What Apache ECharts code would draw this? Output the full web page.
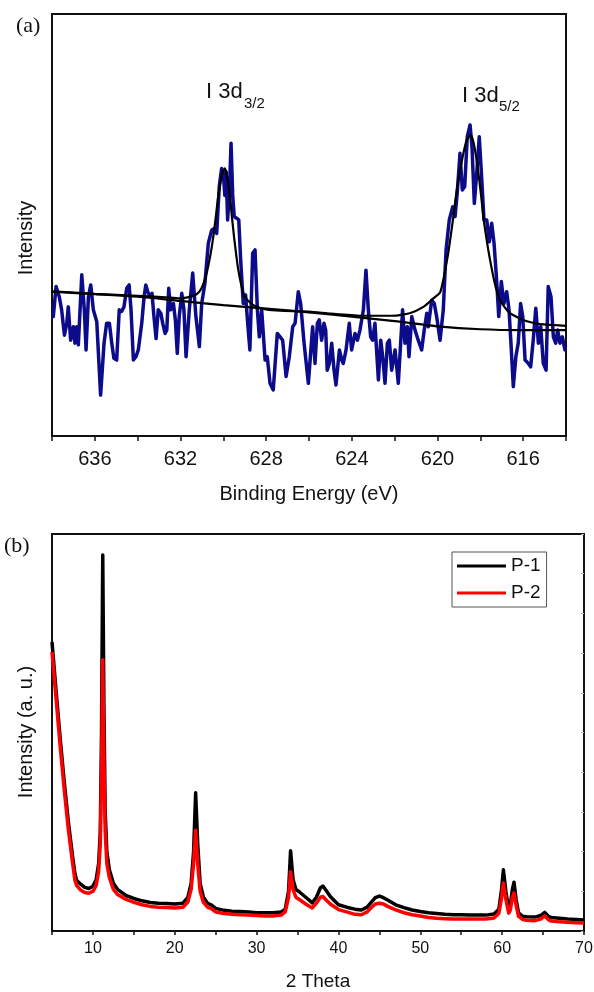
<!DOCTYPE html>
<html>
<head>
<meta charset="utf-8">
<title>XPS I 3d and XRD</title>
<script src="https://cdn.jsdelivr.net/npm/echarts@6/dist/echarts.min.js"></script>
<style>
  html, body { margin: 0; padding: 0; background: #fff; }
  #chart { width: 594px; height: 992px; }
</style>
</head>
<body>
<div id="chart"></div>
<script>
// (a) XPS I 3d: raw counts as [binding energy, intensity]
const xpsRaw = [
  [637.94, 28.3], [637.81, 35.4], [637.66, 33.0], [637.55, 29.9], [637.42, 23.9], [637.31, 26.7],
  [637.24, 30.6], [637.13, 22.7], [637.00, 25.9], [636.93, 22.0], [636.85, 25.9], [636.77, 21.6],
  [636.61, 38.2], [636.49, 29.9], [636.41, 20.4], [636.30, 33.0], [636.19, 35.8], [636.07, 29.9],
  [635.91, 27.1], [635.73, 9.7], [635.57, 22.0], [635.45, 26.7], [635.32, 26.7], [635.21, 22.0],
  [635.11, 18.4], [634.98, 18.0], [634.86, 29.9], [634.75, 29.5], [634.64, 30.6], [634.51, 35.0],
  [634.40, 35.8], [634.31, 29.9], [634.20, 18.0], [634.08, 18.8], [633.97, 20.4], [633.81, 26.7],
  [633.70, 33.0], [633.62, 35.8], [633.53, 34.2], [633.42, 33.0], [633.33, 33.8], [633.24, 28.3],
  [633.14, 23.1], [633.04, 29.9], [632.92, 29.1], [632.83, 26.7], [632.72, 24.3], [632.64, 25.1],
  [632.55, 35.0], [632.46, 29.9], [632.33, 31.4], [632.24, 27.5], [632.15, 19.6], [632.06, 28.3],
  [631.94, 33.8], [631.84, 29.9], [631.74, 18.8], [631.59, 29.9], [631.43, 38.6], [631.28, 28.3],
  [631.12, 21.2], [631.01, 31.4], [630.86, 36.2], [630.70, 45.7], [630.54, 48.8], [630.42, 49.2],
  [630.31, 48.0], [630.19, 59.1], [630.08, 63.4], [630.00, 62.2], [629.93, 57.0], [629.87, 62.6],
  [629.80, 51.2], [629.72, 57.5], [629.64, 69.4], [629.56, 56.7], [629.49, 52.0], [629.38, 51.6],
  [629.28, 51.2], [629.19, 41.7], [629.07, 31.4], [628.96, 33.4], [628.85, 25.9], [628.76, 20.4],
  [628.63, 43.3], [628.52, 44.1], [628.41, 29.9], [628.32, 23.5], [628.21, 29.9], [628.05, 18.0],
  [627.95, 18.8], [627.82, 12.5], [627.67, 10.9], [627.48, 24.3], [627.35, 23.5], [627.23, 22.7],
  [627.07, 14.1], [626.92, 18.8], [626.76, 25.9], [626.65, 26.7], [626.50, 34.2], [626.39, 31.4],
  [626.23, 22.0], [626.03, 12.5], [625.83, 25.9], [625.72, 17.2], [625.61, 26.7], [625.52, 27.5],
  [625.41, 22.7], [625.30, 26.7], [625.22, 25.1], [625.15, 15.6], [625.05, 17.2], [624.94, 22.0],
  [624.83, 15.6], [624.74, 12.1], [624.58, 20.4], [624.47, 18.0], [624.40, 17.2], [624.27, 20.4],
  [624.12, 26.7], [624.01, 20.4], [623.93, 20.4], [623.85, 24.3], [623.74, 22.7], [623.62, 25.1],
  [623.46, 29.9], [623.34, 39.3], [623.23, 29.9], [623.12, 23.5], [623.03, 22.7], [622.92, 26.7],
  [622.76, 13.3], [622.65, 22.7], [622.56, 18.8], [622.45, 12.5], [622.34, 22.0], [622.25, 22.7],
  [622.14, 15.6], [621.98, 20.4], [621.83, 12.5], [621.72, 22.0], [621.63, 29.9], [621.52, 22.0],
  [621.41, 25.9], [621.33, 18.8], [621.20, 28.3], [621.05, 25.1], [620.90, 22.7], [620.74, 20.4],
  [620.62, 25.1], [620.50, 29.1], [620.43, 25.9], [620.27, 32.2], [620.15, 31.4], [620.04, 28.3],
  [619.88, 22.7], [619.73, 29.9], [619.60, 44.1], [619.45, 51.2], [619.29, 54.3], [619.18, 52.0],
  [619.08, 57.5], [618.95, 67.0], [618.84, 58.3], [618.73, 59.1], [618.61, 70.9], [618.48, 73.7],
  [618.39, 68.6], [618.28, 55.1], [618.17, 62.2], [618.05, 70.9], [617.94, 61.4], [617.83, 51.2],
  [617.70, 51.2], [617.58, 46.0], [617.47, 50.4], [617.36, 45.7], [617.24, 37.0], [617.14, 28.3],
  [617.02, 36.6], [616.90, 31.4], [616.77, 34.2], [616.66, 29.9], [616.57, 22.0], [616.46, 11.7],
  [616.34, 18.8], [616.23, 22.0], [616.12, 31.4], [616.02, 28.3], [615.91, 18.0], [615.76, 17.2],
  [615.65, 16.4], [615.53, 22.7], [615.41, 30.3], [615.29, 22.0], [615.18, 25.9], [615.06, 17.2],
  [614.93, 15.6], [614.83, 35.4], [614.70, 33.0], [614.59, 23.5], [614.48, 22.0], [614.39, 25.1],
  [614.28, 22.0], [614.17, 23.5], [614.05, 20.4]
];

// fitted envelope (two peaks on background)
const xpsFit = [
  [638, 34.3], [636, 33.7], [634, 33.2], [632.5, 32.8], [632.0, 32.6], [631.5, 33.1], [631.24, 33.6],
  [631.0, 35.2], [630.78, 38.6], [630.6, 43.0], [630.47, 47.2], [630.35, 52.0], [630.24, 56.7],
  [630.12, 60.5], [630.03, 62.6], [629.93, 63.4], [629.82, 61.5], [629.69, 56.7], [629.6, 52.0],
  [629.5, 47.2], [629.4, 43.0], [629.3, 39.3], [629.15, 35.5], [628.99, 33.0], [628.7, 31.4],
  [628.44, 30.6], [628.0, 30.0], [627.35, 29.7], [626.0, 29.5], [625.0, 29.0], [623.6, 28.5],
  [622.1, 28.5], [621.3, 29.1], [620.66, 30.6], [620.19, 32.6], [619.88, 34.0], [619.73, 37.0],
  [619.6, 40.5], [619.5, 43.3], [619.38, 47.5], [619.26, 52.0], [619.15, 56.5], [619.03, 60.7],
  [618.9, 64.2], [618.79, 67.0], [618.64, 70.1], [618.45, 71.3], [618.35, 70.2], [618.25, 67.8],
  [618.15, 64.5], [618.05, 60.7], [617.95, 56.3], [617.86, 52.0], [617.75, 48.0], [617.63, 44.1],
  [617.5, 40.5], [617.39, 37.7], [617.25, 34.7], [617.08, 32.2], [616.85, 30.4], [616.62, 29.1],
  [616.3, 28.2], [616.0, 27.5], [615.6, 26.9], [615.22, 26.5], [614.6, 26.3], [614.0, 26.1]
];

// background line
const xpsBackground = [
  [638, 34.2], [636, 33.6], [634, 33.0], [632, 32.0], [630, 31.0], [628, 30.2], [626, 29.3],
  [624, 28.3], [622, 27.2], [620, 26.0], [618, 25.3], [616, 25.1], [614, 25.1]
];

// (b) XRD patterns
const xrdTheta = [
  5.0, 5.5, 6.0, 6.5, 7.0, 7.5, 7.8, 8.0, 8.5, 9.0, 9.5, 10.0, 10.4, 10.7, 10.9, 11.05, 11.2, 11.35,
  11.5, 11.7, 12.0, 12.5, 13, 14, 15, 16, 17, 18, 19, 20, 21, 21.6, 22.0, 22.3, 22.55, 22.8, 23.1,
  23.5, 24, 24.5, 25, 26, 27, 28, 29, 30, 31, 32, 33, 33.5, 33.9, 34.15, 34.45, 34.8, 35.3, 36,
  36.8, 37.3, 37.8, 38.1, 38.5, 39, 40, 41, 42, 42.8, 43.5, 44, 44.5, 45, 45.5, 46, 47, 48, 49, 50,
  51, 52, 53, 54, 55, 56, 57, 58, 59, 59.6, 59.9, 60.15, 60.45, 60.8, 61.0, 61.25, 61.45, 61.7,
  62.0, 62.5, 63, 64, 64.7, 65.2, 65.7, 66, 67, 68, 69, 70
];
const xrdP1 = [
  72.8, 60.5, 48.5, 37.5, 27.5, 19.0, 14.5, 12.8, 11.8, 11.0, 10.7, 11.3, 13.0, 17.0, 25.0, 50.0, 94.7, 55.0,
  30.0, 20.0, 15.5, 12.0, 10.5, 9.0, 8.2, 7.6, 7.2, 7.0, 6.9, 6.8, 7.0, 8.5, 12.0, 20.0, 34.8, 22.0, 12.0,
  8.5, 7.0, 6.5, 5.7, 5.2, 5.0, 4.9, 4.8, 4.6, 4.6, 4.6, 4.8, 5.5, 10.0, 20.2, 13.0, 10.5, 9.7, 8.5,
  7.1, 8.5, 10.9, 11.3, 10.2, 8.7, 6.6, 6.0, 5.5, 5.3, 6.0, 7.2, 8.4, 8.8, 8.4, 7.8, 6.6, 5.9, 5.3, 4.9,
  4.6, 4.4, 4.2, 4.1, 4.1, 4.0, 4.0, 4.0, 4.3, 5.5, 10.0, 15.4, 10.0, 5.5, 6.5, 10.5, 12.3, 8.0,
  4.6, 3.7, 3.6, 3.5, 3.9, 4.7, 3.6, 3.4, 3.2, 3.0, 2.9, 2.8
];
const xrdP2 = [
  70.3, 58.5, 46.5, 35.5, 25.5, 17.3, 12.8, 11.5, 10.3, 9.7, 9.5, 10.0, 11.5, 15.0, 22.0, 40.0, 68.3, 42.0,
  25.0, 17.0, 13.5, 10.5, 9.2, 8.0, 7.2, 6.6, 6.2, 6.0, 5.9, 5.8, 6.0, 7.3, 10.5, 17.0, 25.4, 17.0, 10.0,
  7.2, 6.0, 5.6, 4.8, 4.4, 4.2, 4.1, 4.0, 3.9, 3.8, 3.8, 4.0, 4.8, 8.5, 14.9, 10.5, 8.5, 7.8, 6.8,
  5.8, 7.0, 8.5, 8.7, 7.8, 6.8, 5.4, 4.8, 4.2, 4.1, 4.8, 5.9, 6.8, 7.0, 6.8, 6.2, 5.3, 4.6, 4.1, 3.8,
  3.4, 3.2, 3.1, 3.0, 3.0, 3.0, 3.0, 3.0, 3.3, 4.5, 8.0, 12.1, 8.0, 4.5, 5.3, 8.5, 9.6, 6.5,
  3.7, 2.9, 2.7, 2.6, 3.0, 3.8, 2.8, 2.5, 2.3, 2.2, 2.1, 2.0
];

const xpsTickLabels = [616, 620, 624, 628, 632, 636];
const xrdTickLabels = [10, 20, 30, 40, 50, 60, 70];

const sans = 'Liberation Sans, Arial, Helvetica, sans-serif';
const serif = 'Liberation Serif, Times New Roman, serif';

const chart = echarts.init(document.getElementById('chart'), null, { renderer: 'canvas' });

const axisLine = { show: true, lineStyle: { color: '#111', width: 2 } };

const option = {
  animation: false,
  backgroundColor: '#fff',
  grid: [
    { left: 52, top: 14, width: 514, height: 422, show: true, borderColor: '#111', borderWidth: 2, outerBoundsMode: 'none' },
    { left: 52, top: 534, width: 532, height: 397, show: true, borderColor: '#111', borderWidth: 2, outerBoundsMode: 'none' }
  ],
  legend: {
    data: ['P-1', 'P-2'],
    orient: 'vertical',
    left: 452,
    top: 552,
    padding: [4, 6, 4, 5],
    itemGap: 7,
    itemWidth: 49,
    itemHeight: 3,
    icon: 'rect',
    borderColor: '#555',
    borderWidth: 1,
    textStyle: { fontFamily: sans, fontSize: 19, color: '#111', lineHeight: 20 }
  },
  xAxis: [
    {
      type: 'value', gridIndex: 0, min: 614, max: 638, interval: 2, inverse: true,
      name: 'Binding Energy (eV)', nameLocation: 'middle', nameGap: 48,
      nameTextStyle: { fontFamily: sans, fontSize: 20, color: '#111' },
      axisLine: axisLine,
      axisTick: { show: true, inside: false, length: 5, lineStyle: { color: '#111', width: 1.5 } },
      axisLabel: {
        fontFamily: sans, fontSize: 20, color: '#111', margin: 13,
        formatter: v => (xpsTickLabels.indexOf(v) >= 0 ? String(v) : '')
      },
      splitLine: { show: false }
    },
    {
      type: 'value', gridIndex: 1, min: 5, max: 70, interval: 5,
      name: '2 Theta', nameLocation: 'middle', nameGap: 41,
      nameTextStyle: { fontFamily: sans, fontSize: 19, color: '#111' },
      axisLine: axisLine,
      axisTick: { show: true, inside: false, length: 4, lineStyle: { color: '#111', width: 1.5 } },
      axisLabel: {
        fontFamily: sans, fontSize: 16, color: '#111', margin: 10,
        formatter: v => (xrdTickLabels.indexOf(v) >= 0 ? String(v) : '')
      },
      splitLine: { show: false }
    }
  ],
  yAxis: [
    {
      type: 'value', gridIndex: 0, min: 0, max: 100,
      axisLine: axisLine, axisTick: { show: false }, axisLabel: { show: false }, splitLine: { show: false }
    },
    {
      type: 'value', gridIndex: 1, min: 0, max: 100,
      axisLine: axisLine, axisTick: { show: false }, axisLabel: { show: false }, splitLine: { show: false }
    },
    {
      type: 'value', gridIndex: 1, min: 0, max: 100, interval: 10, position: 'right',
      axisLine: { show: false },
      axisTick: { show: true, inside: true, length: 3, lineStyle: { color: '#bbb', width: 1 } },
      axisLabel: { show: false }, splitLine: { show: false }
    }
  ],
  series: [
    {
      name: 'I 3d raw', type: 'line', xAxisIndex: 0, yAxisIndex: 0, data: xpsRaw,
      showSymbol: false, lineStyle: { color: '#0b0b8b', width: 3.5, join: 'round', cap: 'round' }, z: 2
    },
    {
      name: 'background', type: 'line', xAxisIndex: 0, yAxisIndex: 0, data: xpsBackground,
      showSymbol: false, smooth: 0.3, lineStyle: { color: '#000', width: 2.2 }, z: 3
    },
    {
      name: 'fit', type: 'line', xAxisIndex: 0, yAxisIndex: 0, data: xpsFit,
      showSymbol: false, smooth: 0.2, lineStyle: { color: '#000', width: 2.2 }, z: 3
    },
    {
      name: 'P-1', type: 'line', xAxisIndex: 1, yAxisIndex: 1,
      data: xrdTheta.map((t, i) => [t, xrdP1[i]]),
      showSymbol: false, color: '#000', lineStyle: { color: '#000', width: 3.5, join: 'round' }, z: 2
    },
    {
      name: 'P-2', type: 'line', xAxisIndex: 1, yAxisIndex: 1,
      data: xrdTheta.map((t, i) => [t, xrdP2[i]]),
      showSymbol: false, color: '#f00', lineStyle: { color: '#f00', width: 3.5, join: 'round' }, z: 3
    }
  ],
  graphic: [
    { type: 'text', left: 16, top: 15, style: { text: '(a)', font: '22px ' + serif, fill: '#111' } },
    { type: 'text', left: 4, top: 535, style: { text: '(b)', font: '22px ' + serif, fill: '#111' } },
    // peak annotations with subscripts
    { type: 'text', left: 206, top: 81, style: { text: 'I 3d', font: '22px ' + sans, fill: '#111' } },
    { type: 'text', left: 244, top: 96, style: { text: '3/2', font: '15px ' + sans, fill: '#111' } },
    { type: 'text', left: 462, top: 85, style: { text: 'I 3d', font: '22px ' + sans, fill: '#111' } },
    { type: 'text', left: 499, top: 99, style: { text: '5/2', font: '15px ' + sans, fill: '#111' } },
    // rotated y-axis names
    {
      type: 'text', x: 26, y: 238, rotation: Math.PI / 2,
      style: { text: 'Intensity', font: '20px ' + sans, fill: '#111', align: 'center', verticalAlign: 'middle' }
    },
    {
      type: 'text', x: 26, y: 732, rotation: Math.PI / 2,
      style: { text: 'Intensity (a. u.)', font: '20px ' + sans, fill: '#111', align: 'center', verticalAlign: 'middle' }
    }
  ]
};

chart.setOption(option);
</script>
</body>
</html>
